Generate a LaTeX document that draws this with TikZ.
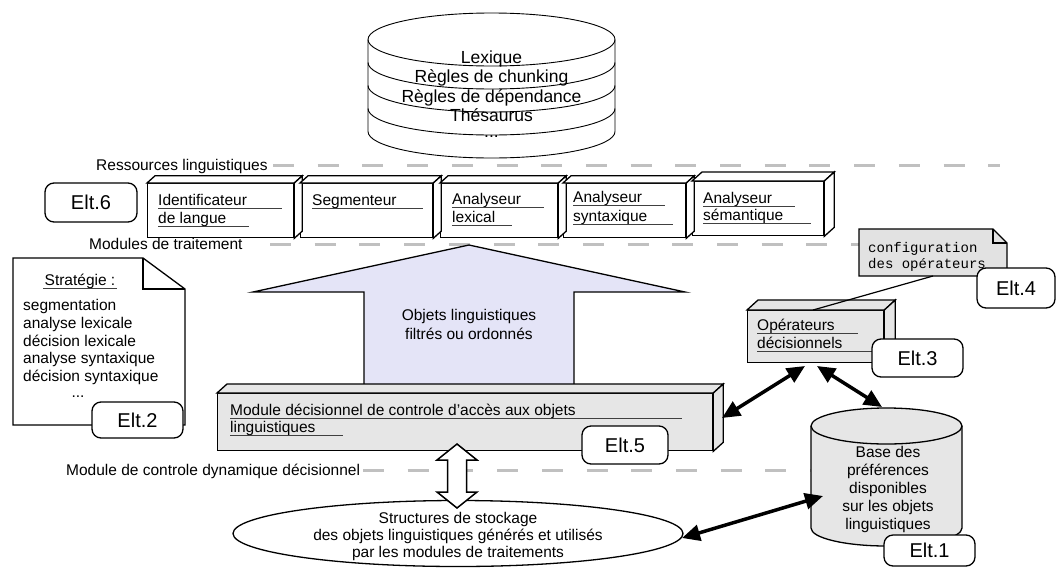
\documentclass[tikz,border=0pt]{standalone}
\usepackage{fontspec}
\setmainfont{Liberation Sans}
\setmonofont{Liberation Mono}
\usetikzlibrary{shapes.geometric,arrows.meta}
\definecolor{boxgray}{RGB}{230,230,230}
\definecolor{notegray}{RGB}{226,226,226}
\definecolor{lav}{RGB}{228,228,247}
\definecolor{dashgray}{RGB}{192,192,192}
\newcommand\fsA{\fontsize{15.5}{18}\selectfont}
\newcommand\fsB{\fontsize{17.5}{19.5}\selectfont}
\newcommand\fsC{\fontsize{20}{22}\selectfont}
\newcommand\fsD{\fontsize{14}{16}\selectfont\ttfamily}
\begin{document}
\begin{tikzpicture}[x=1pt,y=-1pt,
  boxline/.style={line width=1.3pt,draw=black,line join=miter},
  front/.style={boxline,inner sep=0pt,anchor=north west},
  eltbox/.style={draw,line width=1.3pt,rounded corners=9pt,fill=white,inner sep=0pt,font=\fsC},
  ul/.style={line width=0.7pt,draw=black!75},
  txt/.style={inner sep=0pt,anchor=base west,font=\fsA},
  ctxt/.style={inner sep=0pt,anchor=base,font=\fsA},
  dline/.style={draw=dashgray,line width=3pt,dash pattern=on 21pt off 23.7pt},
  thinline/.style={line width=0.9pt,draw=black},
  bigarr/.style={line width=3.5pt,{Triangle[length=18pt,width=16pt]}-{Triangle[length=18pt,width=16pt]}}
]
\useasboundingbox (0,0) rectangle (1057,568);

% dashed separators
\draw[dline] (273,165) -- (1000,165);
\draw[dline] (270,244) -- (1000,244);
\draw[dline] (363,470) -- (830,470);
\node[txt] (lres) at (96,170) {Ressources linguistiques};
\node[txt] (lmod) at (89,249) {Modules de traitement};
\node[txt] (lctl) at (66,475) {Module de controle dynamique décisionnel};

% top cylinder
\draw[thinline,fill=white] (368,39.5) -- (368,131.5)
  arc[start angle=180,end angle=360,x radius=123.5pt,y radius=26.5pt] -- (615,39.5)
  arc[start angle=0,end angle=180,x radius=123.5pt,y radius=26.5pt] -- cycle;
\foreach \yy in {39.5,62.5,85.5,108.5}
  \draw[thinline] (368,\yy) arc[start angle=180,end angle=360,x radius=123.5pt,y radius=26.5pt];
\node[inner sep=0pt,anchor=base,font=\fsB] (cyA) at (491.5,63) {Lexique};
\node[inner sep=0pt,anchor=base,font=\fsB] (cyB) at (491.5,82.5) {Règles de chunking};
\node[inner sep=0pt,anchor=base,font=\fsB] (cyC) at (491.5,102) {Règles de dépendance};
\node[inner sep=0pt,anchor=base,font=\fsB] (cyD) at (491.5,121) {Thésaurus};
\node[inner sep=0pt,anchor=base,font=\fsB] (cyE) at (491.5,137) {...};

% processing modules
\node[front,fill=white,minimum width=146pt,minimum height=54pt] (ident) at (147,183) {};
\node[front,fill=white,minimum width=132pt,minimum height=54pt] (segm) at (300,183) {};
\node[front,fill=white,minimum width=117pt,minimum height=54pt] (alex) at (440,183) {};
\node[front,fill=white,minimum width=122pt,minimum height=54pt] (asyn) at (563,183) {};
\node[front,fill=white,minimum width=131pt,minimum height=54pt] (asem) at (692,181) {};
\foreach \n/\d in {ident/8,segm/8,alex/8,asyn/8,asem/10}{
  \draw[boxline,fill=white] (\n.north west) -- ++(\d pt,0.9*\d pt) -- ([shift={(\d pt,0.9*\d pt)}]\n.north east) -- (\n.north east) -- cycle;
  \draw[boxline,fill=white] (\n.north east) -- ++(\d pt,0.9*\d pt) -- ([shift={(\d pt,0.9*\d pt)}]\n.south east) -- (\n.south east) -- cycle;
}
\node[txt] (tidA) at (158,205.5) {Identificateur};
\draw[ul] (158,208) -- (282,208);
\node[txt] (tidB) at (158,223) {de langue};
\draw[ul] (158,226) -- (249,226);
\node[txt] (tseg) at (312,205.5) {Segmenteur};
\draw[ul] (312,208) -- (423,208);
\node[txt] (tlxA) at (452,204.5) {Analyseur};
\draw[ul] (452,207) -- (544,207);
\node[txt] (tlxB) at (452,222.5) {lexical};
\draw[ul] (452,225) -- (512,225);
\node[txt] (tsyA) at (573,202.5) {Analyseur};
\draw[ul] (573,205) -- (665,205);
\node[txt] (tsyB) at (573,221.5) {syntaxique};
\draw[ul] (573,224) -- (673,224);
\node[txt] (tsmA) at (703,203.5) {Analyseur};
\draw[ul] (703,206) -- (795,206);
\node[txt] (tsmB) at (703,220.5) {sémantique};
\draw[ul] (703,223) -- (811,223);

\node[eltbox,minimum width=92pt,minimum height=39pt] (e6) at (91,202.5) {Elt.6};

% strategy document
\draw[boxline,fill=white] (13,258) -- (143,258) -- (185,289) -- (185,425) -- (13,425) -- cycle;
\draw[boxline] (143,258) -- (143,289) -- (185,289);
\node[ctxt] (sttl) at (80,285) {Stratégie :};
\draw[ul] (43,288) -- (117,288);
\node[txt] (s1) at (23,310) {segmentation};
\node[txt] (s2) at (23,328) {analyse lexicale};
\node[txt] (s3) at (23,346) {décision lexicale};
\node[txt] (s4) at (23,363.5) {analyse syntaxique};
\node[txt] (s5) at (23,381) {décision syntaxique};
\node[ctxt] (s6) at (78,397) {...};
\node[eltbox,minimum width=91pt,minimum height=36pt] (e2) at (137.5,420) {Elt.2};

% big arrow
\draw[boxline,fill=lav] (364,396) -- (364,292) -- (253,292) -- (469,245) -- (685,292) -- (574,292) -- (574,396) -- cycle;
\node[ctxt] (objA) at (469,320) {Objets linguistiques};
\node[ctxt] (objB) at (469,339) {filtrés ou ordonnés};

% storage ellipse
\node[ellipse,draw,line width=1.3pt,fill=white,minimum width=450pt,minimum height=66pt,inner sep=0pt] (store) at (458,533.5) {};
\node[ctxt] (stA) at (458,523) {Structures de stockage};
\node[ctxt] (stB) at (458,540.5) {des objets linguistiques générés et utilisés};
\node[ctxt] (stC) at (458,557.5) {par les modules de traitements};

% decision module
\node[front,fill=boxgray,minimum width=495pt,minimum height=57pt] (modctl) at (217,393) {};
\draw[boxline,fill=boxgray] (modctl.north west) -- ++(10pt,9pt) -- ([shift={(10pt,9pt)}]modctl.north east) -- (modctl.north east) -- cycle;
\draw[boxline,fill=boxgray] (modctl.north east) -- ++(10pt,9pt) -- ([shift={(10pt,9pt)}]modctl.south east) -- (modctl.south east) -- cycle;
\node[txt] (mcA) at (230,415.5) {Module décisionnel de controle d'accès aux objets};
\draw[ul] (230,418) -- (682,418);
\node[txt] (mcB) at (230,432.5) {linguistiques};
\draw[ul] (230,435) -- (343,435);
\node[eltbox,minimum width=86pt,minimum height=38pt] (e5) at (625,445) {Elt.5};

% hollow double arrow
\draw[line width=1.5pt,fill=white,line join=miter] (457,444) -- (477,460) -- (466.5,460) -- (466.5,492) -- (477,492) -- (457,508) -- (437,492) -- (447.5,492) -- (447.5,460) -- (437,460) -- cycle;

% configuration note
\draw[boxline,fill=notegray] (859,229) -- (993,229) -- (1007,243) -- (1007,276) -- (859,276) -- cycle;
\draw[boxline] (993,229) -- (993,243) -- (1007,243);
\node[inner sep=0pt,anchor=base west,font=\fsD] (cfA) at (868,252) {configuration};
\node[inner sep=0pt,anchor=base west,font=\fsD] (cfB) at (868,268) {des opérateurs};
\node[eltbox,minimum width=78pt,minimum height=40pt] (e4) at (1016,288) {Elt.4};

% operators box
\node[front,fill=boxgray,minimum width=136pt,minimum height=52pt] (oper) at (747,310) {};
\draw[boxline,fill=boxgray] (oper.north west) -- ++(11pt,10pt) -- ([shift={(11pt,10pt)}]oper.north east) -- (oper.north east) -- cycle;
\draw[boxline,fill=boxgray] (oper.north east) -- ++(11pt,10pt) -- ([shift={(11pt,10pt)}]oper.south east) -- (oper.south east) -- cycle;
\node[txt] (opA) at (757,330.5) {Opérateurs};
\draw[ul] (757,333) -- (858,333);
\node[txt] (opB) at (757,348.5) {décisionnels};
\draw[ul] (757,351) -- (872,351);
\coordinate (nl) at (933,276);
\coordinate (ol) at (813,310);
\draw[line width=1.2pt] (nl) -- (ol);
\node[eltbox,minimum width=91pt,minimum height=38pt] (e3) at (917.5,358) {Elt.3};

% preference base cylinder
\fill[boxgray] (811,426) -- (811,528) arc[start angle=180,end angle=360,x radius=75.5pt,y radius=18pt] -- (962,426) -- cycle;
\draw[boxline] (811,426) -- (811,528) arc[start angle=180,end angle=360,x radius=75.5pt,y radius=18pt] -- (962,426);
\draw[boxline,fill=boxgray] (886.5,426) ellipse[x radius=75.5pt,y radius=18pt];
\node[inner sep=0pt,align=center,font=\fsA,text depth=0pt] (base) at (888,488) {Base des\\[-0.2pt]préférences\\disponibles\\sur les objets\\linguistiques};
\node[eltbox,minimum width=91pt,minimum height=31pt] (e1) at (929.5,550.5) {Elt.1};

% thick double arrows
\coordinate (a1s) at (722,418);
\coordinate (a1e) at (805,366);
\coordinate (a2s) at (817,366);
\coordinate (a2e) at (882,407);
\coordinate (a3s) at (682,538);
\coordinate (a3e) at (823,496);
\draw[bigarr] (a1s) -- (a1e);
\draw[bigarr] (a2s) -- (a2e);
\draw[bigarr] (a3s) -- (a3e);
\end{tikzpicture}
\end{document}
